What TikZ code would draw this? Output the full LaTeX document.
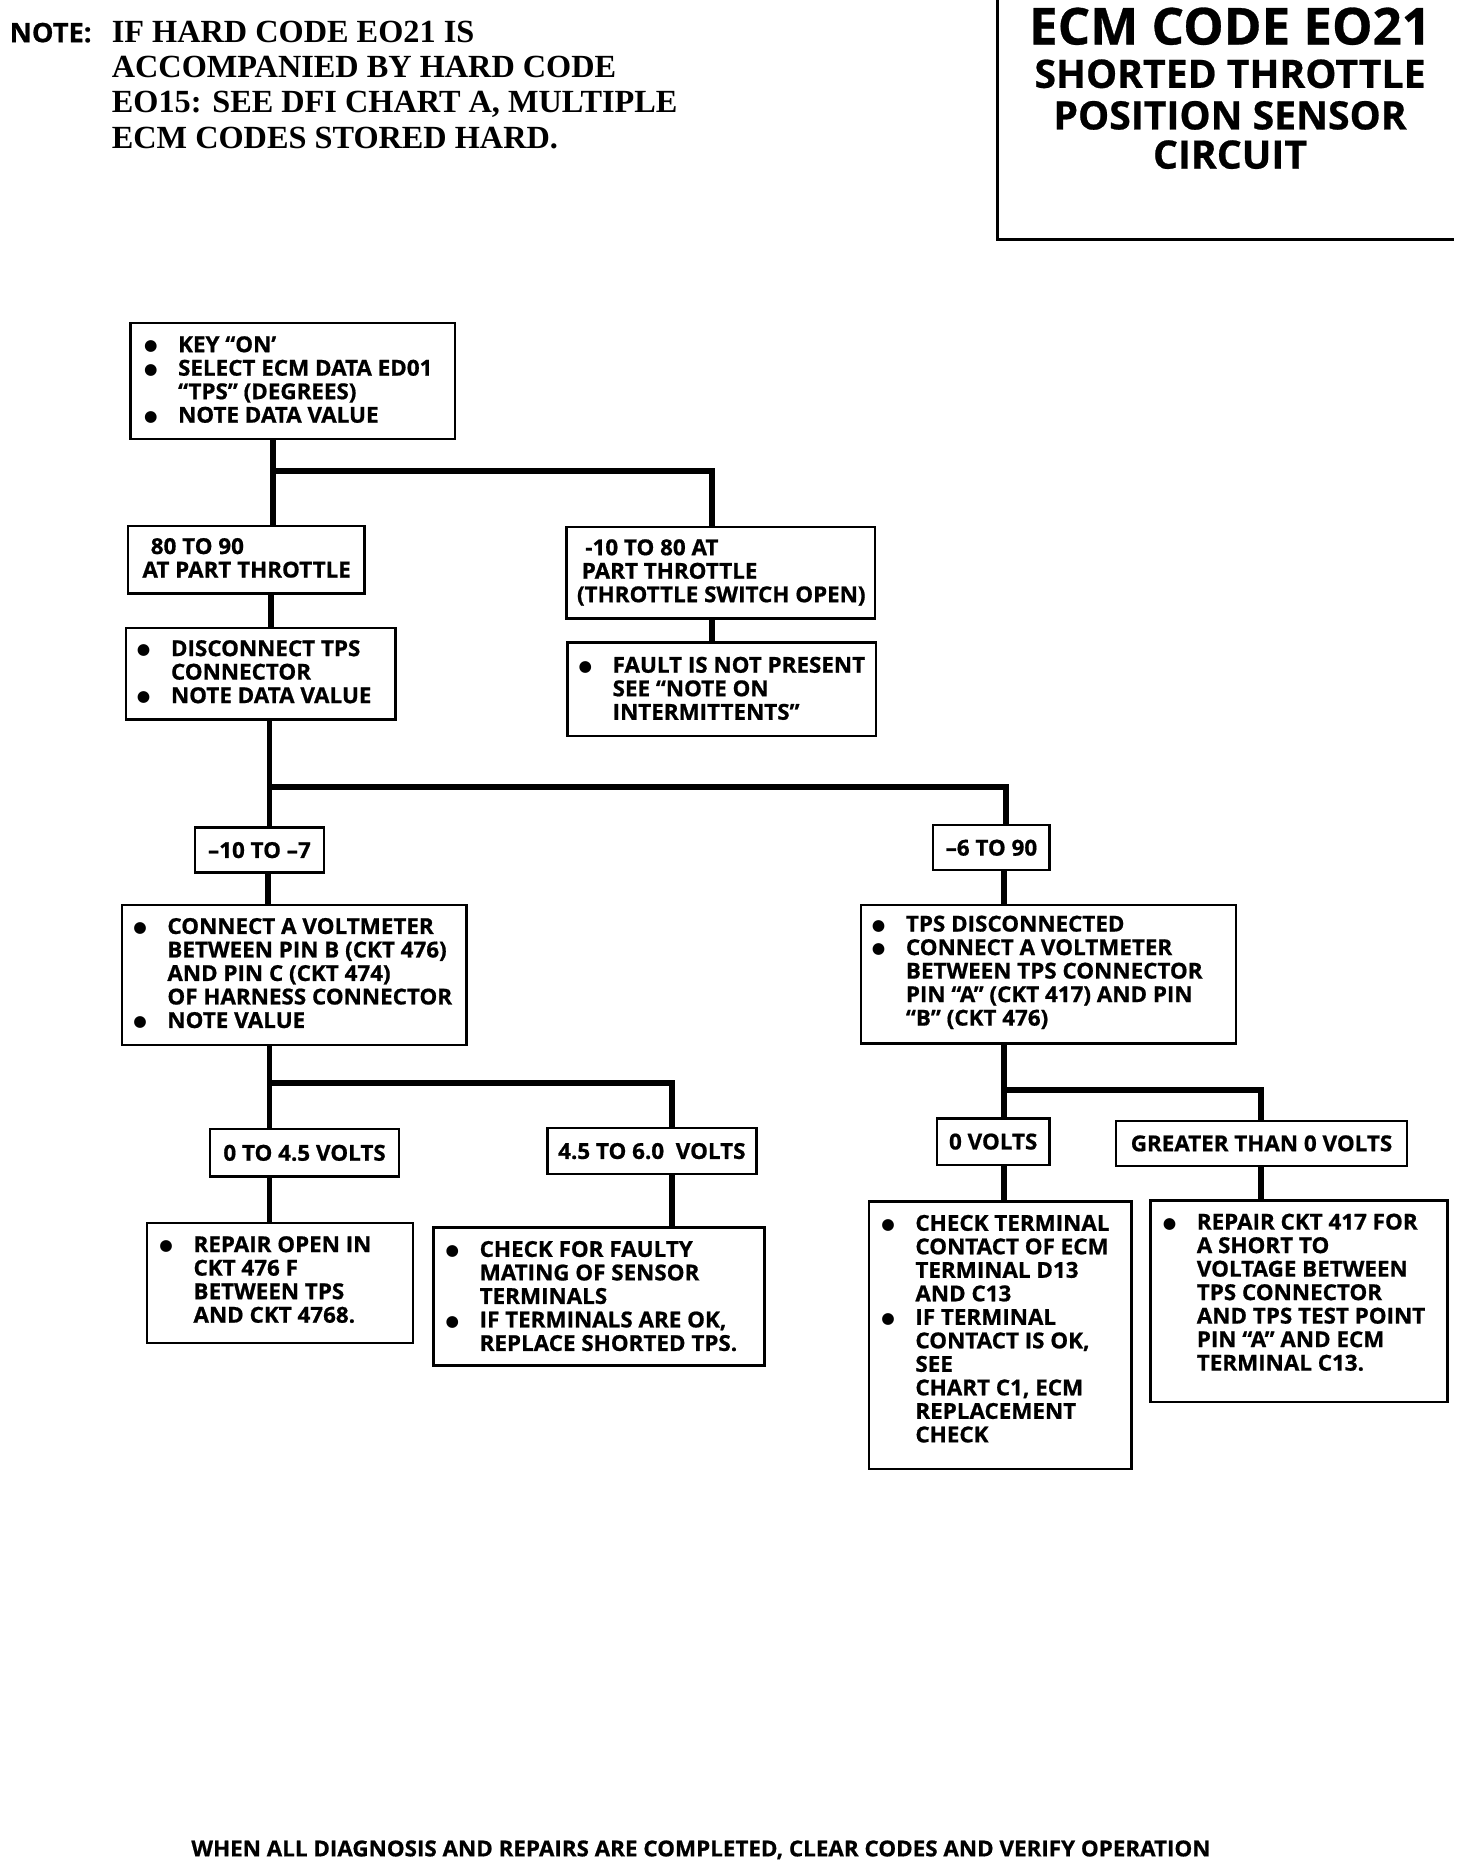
\documentclass[tikz,border=0pt]{standalone}
\usepackage{fontspec}
\newfontfamily\boxfont[FakeStretch=1.02,FakeBold=0.8]{Open Sans}
\newfontfamily\titlefont[FakeBold=0.6]{Open Sans}
\newfontfamily\notefont{Liberation Serif}
\newfontfamily\symfont{DejaVu Sans}
\newcommand\B{\makebox[0pt][c]{\raisebox{1pt}{\symfont\fontsize{13}{13}\selectfont ●}}\hspace*{23pt}}
\newcommand\C{\hspace*{23pt}}
\newcommand\mkbox[6]{\node[box,anchor=north west,minimum width={(#4-#2)*1pt},minimum height={(#5-#3)*1pt}] (#1) at (#2,#3) {#6};}
\newcommand\txt[4]{\node[txt] (#1) at (#2,{#3-8.4}) {\rule{0pt}{15pt}#4};}
\tikzset{
  box/.style={draw,line width=2pt,inner sep=0pt,outer sep=0pt,font=\boxfont\bfseries\fontsize{18.5}{19.8}\selectfont},
  txt/.style={anchor=north west,inner sep=0pt,outer sep=0pt,align=left,font=\boxfont\bfseries\fontsize{18.5}{19.8}\selectfont},
  conn/.style={line width=5pt},
}
\begin{document}
\begin{tikzpicture}[x=1pt,y=-1pt]
\useasboundingbox (0,0) rectangle (1240,1575);
% note
\node[anchor=base west,inner sep=0pt,font=\boxfont\bfseries\fontsize{22.5}{22.5}\selectfont] (notelbl) at (8,35.5) {NOTE:};
\node[anchor=north west,inner sep=0pt,align=left,font=\notefont\bfseries\fontsize{27.2}{29.7}\selectfont] (note) at (94,{35.5-20}) {\rule{0pt}{20pt}IF HARD CODE EO21 IS\\ACCOMPANIED BY HARD CODE\\EO15: SEE DFI CHART A, MULTIPLE\\ECM CODES STORED HARD.};
% title
\draw[line width=2.5pt] (840,0) -- (840,202) -- (1225,202);
\node[anchor=base,inner sep=0pt,font=\titlefont\bfseries\fontsize{43}{43}\selectfont] (title1) at (1036,37.5) {ECM CODE EO21};
\node[anchor=base,inner sep=0pt,font=\titlefont\bfseries\fontsize{33}{33}\selectfont] (title2) at (1036,74) {SHORTED THROTTLE};
\node[anchor=base,inner sep=0pt,font=\titlefont\bfseries\fontsize{33}{33}\selectfont] (title3) at (1036,109) {POSITION SENSOR};
\node[anchor=base,inner sep=0pt,font=\titlefont\bfseries\fontsize{33}{33}\selectfont] (title4) at (1036,142) {CIRCUIT};
% boxes
\mkbox{b1}{110}{272}{383}{370}{}
\mkbox{b2}{108}{443}{307}{500}{}
\mkbox{b3}{477}{444}{737}{521}{}
\mkbox{b4}{478}{541}{738}{620}{}
\mkbox{b5}{106}{529}{333}{606}{}
\mkbox{b6}{164}{697}{273}{735}{–10 TO –7}
\mkbox{b7}{786}{695}{884}{733}{–6 TO 90}
\mkbox{b8}{103}{762}{393}{880}{}
\mkbox{b9}{725}{762}{1041}{879}{}
\mkbox{b10}{177}{951}{336}{991}{0 TO 4.5 VOLTS}
\mkbox{b11}{461}{950}{637}{989}{4.5 TO 6.0\ \ VOLTS}
\mkbox{b12}{124}{1030}{348}{1131}{}
\mkbox{b13}{365}{1034}{644}{1150}{}
\mkbox{b14}{789}{942}{884}{981}{0 VOLTS}
\mkbox{b15}{940}{944}{1185}{982}{GREATER THAN 0 VOLTS}
\mkbox{b16}{732}{1012}{953}{1237}{}
\mkbox{b17}{969}{1011}{1219}{1181}{}
% texts
\txt{t1}{127}{290}{\B KEY “ON’\\\B SELECT ECM DATA ED01\\\C “TPS” (DEGREES)\\\B NOTE DATA VALUE}
\txt{t2}{120}{460}{\hspace*{7pt}80 TO 90\\AT PART THROTTLE}
\txt{t3}{486}{461}{\hspace*{7pt}-10 TO 80 AT\\\hspace*{4pt}PART THROTTLE\\(THROTTLE SWITCH OPEN)}
\txt{t4}{493}{560}{\B FAULT IS NOT PRESENT\\\C SEE “NOTE ON\\\C INTERMITTENTS”}
\txt{t5}{121}{546}{\B DISCONNECT TPS\\\C CONNECTOR\\\B NOTE DATA VALUE}
\txt{t8}{118}{780}{\B CONNECT A VOLTMETER\\\C BETWEEN PIN B (CKT 476)\\\C AND PIN C (CKT 474)\\\C OF HARNESS CONNECTOR\\\B NOTE VALUE}
\txt{t9}{740}{778}{\B TPS DISCONNECTED\\\B CONNECT A VOLTMETER\\\C BETWEEN TPS CONNECTOR\\\C PIN “A” (CKT 417) AND PIN\\\C “B” (CKT 476)}
\txt{t12}{140}{1048}{\B REPAIR OPEN IN\\\C CKT 476 F\\\C BETWEEN TPS\\\C AND CKT 4768.}
\txt{t13}{381}{1052}{\B CHECK FOR FAULTY\\\C MATING OF SENSOR\\\C TERMINALS\\\B IF TERMINALS ARE OK,\\\C REPLACE SHORTED TPS.}
\txt{t16}{748}{1030}{\B CHECK TERMINAL\\\C CONTACT OF ECM\\\C TERMINAL D13\\\C AND C13\\\B IF TERMINAL\\\C CONTACT IS OK,\\\C SEE\\\C CHART C1, ECM\\\C REPLACEMENT\\\C CHECK}
\txt{t17}{985}{1029}{\B REPAIR CKT 417 FOR\\\C A SHORT TO\\\C VOLTAGE BETWEEN\\\C TPS CONNECTOR\\\C AND TPS TEST POINT\\\C PIN “A” AND ECM\\\C TERMINAL C13.}
% connectors
\coordinate (j1) at (230,397); \coordinate (j2) at (600,397);
\draw[conn] (j1 |- b1.south) -- (j1 |- b2.north);
\draw[conn] (j1) -- (j2) -- (j2 |- b3.north);
\draw[conn] (228,0 |- b2.south) -- (228,0 |- b5.north);
\draw[conn] (600,0 |- b3.south) -- (600,0 |- b4.north);
\coordinate (j3) at (227,663); \coordinate (j4) at (847,663);
\draw[conn] (j3 |- b5.south) -- (j3 |- b6.north);
\draw[conn] (j3) -- (j4) -- (j4 |- b7.north);
\draw[conn] (226,0 |- b6.south) -- (226,0 |- b8.north);
\draw[conn] (846,0 |- b7.south) -- (846,0 |- b9.north);
\coordinate (j5) at (227,912); \coordinate (j6) at (566,912);
\draw[conn] (j5 |- b8.south) -- (j5 |- b10.north);
\draw[conn] (j5) -- (j6) -- (j6 |- b11.north);
\draw[conn] (227,0 |- b10.south) -- (227,0 |- b12.north);
\draw[conn] (566,0 |- b11.south) -- (566,0 |- b13.north);
\coordinate (j7) at (846,918); \coordinate (j8) at (1062,918);
\draw[conn] (j7 |- b9.south) -- (j7 |- b14.north);
\draw[conn] (j7) -- (j8) -- (j8 |- b15.north);
\draw[conn] (846,0 |- b14.south) -- (846,0 |- b16.north);
\draw[conn] (1062,0 |- b15.south) -- (1062,0 |- b17.north);
% footer
\node[anchor=base west,inner sep=0pt,font=\boxfont\bfseries\fontsize{18.5}{18.5}\selectfont] (footer) at (161,1563.5) {WHEN ALL DIAGNOSIS AND REPAIRS ARE COMPLETED, CLEAR CODES AND VERIFY OPERATION};
\end{tikzpicture}
\end{document}
